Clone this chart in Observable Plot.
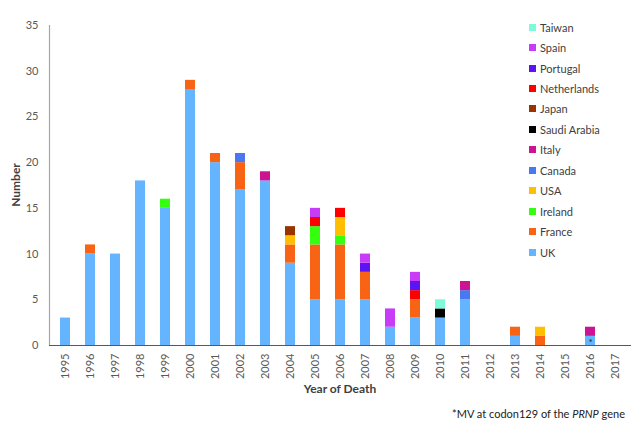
<!DOCTYPE html>
<html>
<head>
<meta charset="utf-8">
<script src="https://cdn.jsdelivr.net/npm/d3@7"></script>
<script src="https://cdn.jsdelivr.net/npm/@observablehq/plot@0.6"></script>
<style>
  body { margin: 0; background: #fff; font-family: Lato, "Open Sans", sans-serif; }
  #wrap { position: relative; width: 642px; height: 440px; overflow: hidden; }
  #chart { position: absolute; left: 0; top: 0; }
  .ylab { position: absolute; left: 15px; top: 185px; transform: translate(-50%, -50%) rotate(-90deg);
          font-weight: bold; font-size: 12px; color: #404040; white-space: nowrap; }
  .xlab { position: absolute; left: 340px; top: 388px; transform: translate(-50%, -50%);
          font-weight: bold; font-size: 12px; color: #404040; white-space: nowrap; }
  .caption { position: absolute; right: 17px; top: 413px; transform: translateY(-50%);
          font-size: 11px; color: #222; white-space: nowrap; }
  #legend { position: absolute; left: 529px; top: 17px; }
  .item { height: 20.45px; display: flex; align-items: center; font-size: 11px; color: #404040; white-space: nowrap; }
  .sw { width: 7px; height: 7px; margin-right: 4px; flex: none; }
</style>
</head>
<body>
<div id="wrap">
  <div id="chart"></div>
  <div class="ylab">Number</div>
  <div class="xlab">Year of Death</div>
  <div class="caption">*MV at codon129 of the <i>PRNP</i> gene</div>
  <div id="legend"></div>
</div>
<script>
const years = ["1995","1996","1997","1998","1999","2000","2001","2002","2003","2004","2005","2006",
               "2007","2008","2009","2010","2011","2012","2013","2014","2015","2016","2017"];
const countries = ["UK","France","Ireland","USA","Canada","Italy","Saudi Arabia","Japan",
                   "Netherlands","Portugal","Spain","Taiwan"];
const colors = ["#64b4ff","#f86414","#33ff0f","#ffbf00","#4a78f0","#cc1493","#000000","#993300",
                "#ff0000","#5c14f5","#c83cf8","#7dfad8"];
//             95 96 97 98 99 00 01 02 03 04 05 06 07 08 09 10 11 12 13 14 15 16 17
const uk =          [3,10,10,18,15,28,20,17,18, 9, 5, 5, 5, 2, 3, 3, 5, 0, 1, 0, 0, 1, 0];
const france =      [0, 1, 0, 0, 0, 1, 1, 3, 0, 2, 6, 6, 3, 0, 2, 0, 0, 0, 1, 1, 0, 0, 0];
const ireland =     [0, 0, 0, 0, 1, 0, 0, 0, 0, 0, 2, 1, 0, 0, 0, 0, 0, 0, 0, 0, 0, 0, 0];
const usa =         [0, 0, 0, 0, 0, 0, 0, 0, 0, 1, 0, 2, 0, 0, 0, 0, 0, 0, 0, 1, 0, 0, 0];
const canada =      [0, 0, 0, 0, 0, 0, 0, 1, 0, 0, 0, 0, 0, 0, 0, 0, 1, 0, 0, 0, 0, 0, 0];
const italy =       [0, 0, 0, 0, 0, 0, 0, 0, 1, 0, 0, 0, 0, 0, 0, 0, 1, 0, 0, 0, 0, 1, 0];
const saudiArabia = [0, 0, 0, 0, 0, 0, 0, 0, 0, 0, 0, 0, 0, 0, 0, 1, 0, 0, 0, 0, 0, 0, 0];
const japan =       [0, 0, 0, 0, 0, 0, 0, 0, 0, 1, 0, 0, 0, 0, 0, 0, 0, 0, 0, 0, 0, 0, 0];
const netherlands = [0, 0, 0, 0, 0, 0, 0, 0, 0, 0, 1, 1, 0, 0, 1, 0, 0, 0, 0, 0, 0, 0, 0];
const portugal =    [0, 0, 0, 0, 0, 0, 0, 0, 0, 0, 0, 0, 1, 0, 1, 0, 0, 0, 0, 0, 0, 0, 0];
const spain =       [0, 0, 0, 0, 0, 0, 0, 0, 0, 0, 1, 0, 1, 2, 1, 0, 0, 0, 0, 0, 0, 0, 0];
const taiwan =      [0, 0, 0, 0, 0, 0, 0, 0, 0, 0, 0, 0, 0, 0, 0, 1, 0, 0, 0, 0, 0, 0, 0];
const starYears = ["2016"];
const yTicks = [0,5,10,15,20,25,30,35];

const series = [uk, france, ireland, usa, canada, italy, saudiArabia, japan, netherlands, portugal, spain, taiwan];
const data = [];
countries.forEach((c, ci) => {
  years.forEach((yr, yi) => {
    if (series[ci][yi] > 0) data.push({year: yr, country: c, value: series[ci][yi]});
  });
});
const stars = starYears.map(yr => ({year: yr, value: uk[years.indexOf(yr)] / 2}));

const chart = Plot.plot({
  width: 642,
  height: 400,
  marginLeft: 49,
  marginRight: 11,
  marginTop: 25,
  marginBottom: 55,
  style: {fontFamily: "Lato, 'Open Sans', sans-serif", fontSize: "11px", color: "#595959", background: "transparent"},
  x: {domain: years, paddingInner: 0.6, paddingOuter: 0.3},
  y: {domain: [0, 35]},
  color: {domain: countries, range: colors},
  marks: [
    Plot.axisY({ticks: yTicks, tickSize: 0, tickPadding: 11, label: null}),
    Plot.axisX({tickRotate: -90, tickSize: 0, tickPadding: 8, label: null}),
    Plot.barY(data, {x: "year", y: "value", fill: "country", order: countries}),
    Plot.frame({anchor: "left", stroke: "#a6a6a6", strokeWidth: 1.2}),
    Plot.ruleY([0], {stroke: "#595959", strokeWidth: 1.2}),
    Plot.text(stars, {x: "year", y: "value", text: () => "*", fill: "#222", fontSize: 10, dy: 2})
  ]
});
document.getElementById("chart").appendChild(chart);

const legend = document.getElementById("legend");
countries.slice().reverse().forEach(c => {
  const row = document.createElement("div");
  row.className = "item";
  const sw = document.createElement("span");
  sw.className = "sw";
  sw.style.background = colors[countries.indexOf(c)];
  row.appendChild(sw);
  row.appendChild(document.createTextNode(c));
  legend.appendChild(row);
});
</script>
</body>
</html>
